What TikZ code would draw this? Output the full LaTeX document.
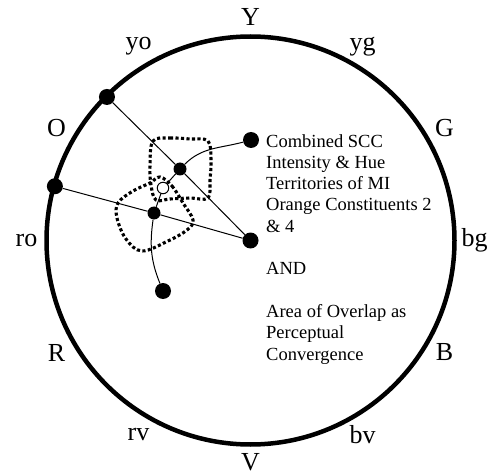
\documentclass[tikz,border=0pt]{standalone}
\usepackage{fontspec}
\setmainfont{Liberation Serif}
\usetikzlibrary{calc}

\begin{document}
\begin{tikzpicture}[x=1pt, y=-1pt,
    rim/.style={line width=4.5pt},
    hue/.style={font=\fontsize{26}{30}\selectfont, inner sep=0pt},
    note/.style={font=\fontsize{18.5}{21.3}\selectfont, align=left, inner sep=0pt},
    bigdot/.style={circle, fill, inner sep=0pt, minimum size=16pt},
    smalldot/.style={circle, fill, inner sep=0pt, minimum size=13pt},
    opendot/.style={circle, draw, fill=white, line width=1pt, inner sep=0pt, minimum size=11.5pt},
    link/.style={line width=1pt},
    territory/.style={line width=3.1pt, dash pattern=on 3.1pt off 2.4pt}]
  \useasboundingbox (0,0) rectangle (501,476);
  \coordinate (o) at (250.5,240.5);
  \draw[rim] (o) circle[radius=204];
  % hue names round the rim
  \foreach \ang/\lab in {90/Y,60/yg,30/G,0/bg,-30/B,-60/bv,-120/rv,-150/R,180/ro,150/O,120/yo}
    \node[hue] (\lab) at ([shift={(-\ang:224)}]o) {\lab};
  \node[hue] (V) at ([shift={(90:222)}]o) {V};
  % territories of constituents 2 and 4
  \draw[territory] plot[smooth cycle, tension=0.6] coordinates {(153,141) (170,138) (190,139) (208,141) (211,160) (210,180) (208,198) (190,198) (170,199) (156,200) (151,185) (150,165)};
  \draw[territory] plot[smooth cycle, tension=0.6] coordinates {(160,177) (172,186) (183,203) (193,220) (187,230) (168,241) (142,251) (126,239) (117,218) (118,203) (133,191) (150,183)};
  % dots
  \node[bigdot] (yo-pt) at ([shift={(-135:203)}]o) {};
  \node[bigdot] (ro-pt) at ([shift={(-164.5:203)}]o) {};
  \node[bigdot] (centre) at (o) {};
  \node[bigdot] (top-end) at (251,140) {};
  \node[bigdot] (low-end) at (163,291) {};
  \node[smalldot] (c2) at (180,169) {};
  \node[smalldot] (c4) at (154,213) {};
  \node[opendot] (conv) at (163,188) {};
  \draw[link] (yo-pt) -- (c2) -- (centre);
  \draw[link] (ro-pt) -- (c4) -- (centre);
  \draw[link] (c2) to[out=45,in=195] (top-end);
  \draw[link] (c2) -- (conv) -- (c4);
  \draw[link] (c4) to[out=-98,in=112] (low-end);
  \node[note, anchor=north west] (caption) at (266,134) {Combined SCC\\Intensity \& Hue\\Territories of MI\\Orange Constituents 2\\\& 4\\[21.3pt]AND\\[21.3pt]Area of Overlap as\\Perceptual\\Convergence};
\end{tikzpicture}
\end{document}
